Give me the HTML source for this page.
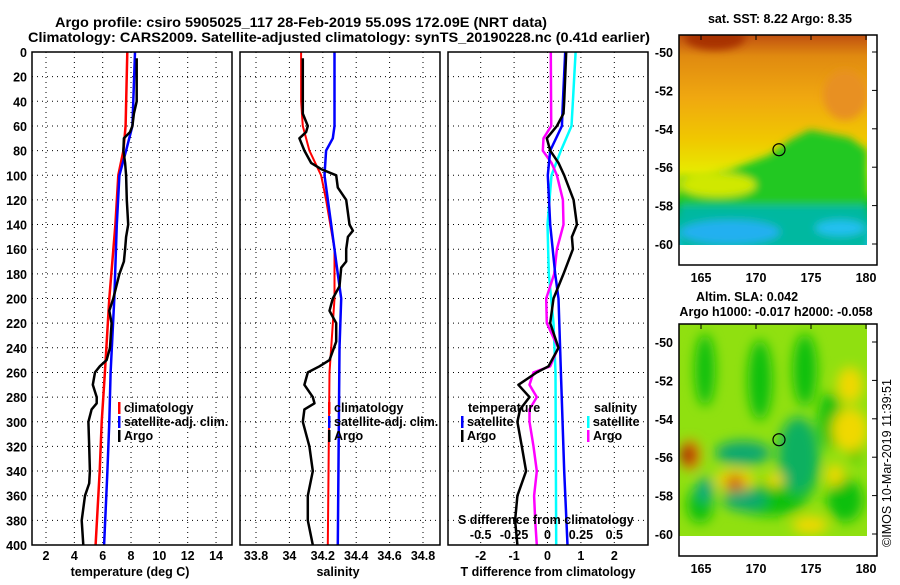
<!DOCTYPE html>
<html><head><meta charset="utf-8"><style>
html,body{margin:0;padding:0;background:#fff;}
svg text{font-family:"Liberation Sans",Arial,sans-serif;font-weight:bold;font-size:12.5px;fill:#000;}
</style></head><body>
<svg id="fig" xmlns="http://www.w3.org/2000/svg" width="900" height="580" viewBox="0 0 900 580">
<defs>
<filter id="blur6" x="-20%" y="-20%" width="140%" height="140%"><feGaussianBlur stdDeviation="6"/></filter>
<filter id="blur4" x="-20%" y="-20%" width="140%" height="140%"><feGaussianBlur stdDeviation="4"/></filter>
<clipPath id="clipTop"><rect x="679" y="35" width="188" height="210"/></clipPath>
<clipPath id="clipBot"><rect x="679" y="324" width="188" height="212"/></clipPath>
<linearGradient id="sstGrad" x1="0" y1="0" x2="0" y2="1">
<stop offset="0" stop-color="#c05010"/><stop offset="0.1" stop-color="#e08a10"/>
<stop offset="0.3" stop-color="#f0a810"/><stop offset="0.5" stop-color="#f0c800"/>
<stop offset="0.64" stop-color="#e8e800"/><stop offset="0.74" stop-color="#a0e000"/>
<stop offset="0.8" stop-color="#10c010"/><stop offset="0.88" stop-color="#00b890"/>
<stop offset="1" stop-color="#20c0f0"/>
</linearGradient>
</defs>
<text x="55" y="27" textLength="492" lengthAdjust="spacingAndGlyphs" style="font-size:14px">Argo profile: csiro 5905025_117 28-Feb-2019 55.09S 172.09E (NRT data)</text>
<text x="28" y="42" textLength="622" lengthAdjust="spacingAndGlyphs" style="font-size:14px">Climatology: CARS2009. Satellite-adjusted climatology: synTS_20190228.nc (0.41d earlier)</text>
<g id="panels"></g>
<g id="maps"></g>
<text transform="translate(891,547) rotate(-90)" textLength="168" lengthAdjust="spacingAndGlyphs" style="font-weight:normal;font-size:13px">©IMOS 10-Mar-2019 11:39:51</text>
</svg>
<script>
// ---------- data ----------
const depthsTClim=[0,60,80,100,140,200,260,300,340,400];
const tempClim=[7.74,7.62,7.46,7.1,6.9,6.47,6.16,5.93,5.79,5.5];
const depthsTSat=[0,40,60,80,100,140,200,260,300,340,400];
const tempSat=[8.28,8.16,8.1,7.65,7.18,7.0,6.82,6.56,6.47,6.33,6.1];
const depthsArgo=[5,40,50,60,65,70,80,90,100,120,140,150,160,170,180,200,210,220,240,250,255,260,270,280,285,290,300,320,340,350,360,380,400];
const tempArgo=[8.4,8.4,8.2,8.1,7.93,7.5,7.46,7.58,7.65,7.7,7.8,7.65,7.58,7.5,7.18,6.75,6.47,6.63,6.52,6.28,5.8,5.46,5.3,5.58,5.58,5.22,4.99,5.05,5.1,5.05,4.75,4.52,4.63];
const depthsSClim=[0,40,60,80,100,120,160,200,240,260,400];
const salClim=[34.07,34.07,34.08,34.12,34.19,34.22,34.27,34.27,34.25,34.24,34.23];
const depthsSSat=[0,60,70,80,100,140,180,200,240,400];
const salSat=[34.27,34.27,34.26,34.22,34.21,34.25,34.29,34.31,34.30,34.29];
const depthsSArgo=[5,50,60,65,70,80,90,95,100,110,120,140,145,150,160,170,175,190,200,210,220,235,250,255,260,270,280,285,290,300,320,340,360,380,400];
const salArgo=[34.08,34.08,34.11,34.1,34.06,34.09,34.13,34.19,34.28,34.29,34.34,34.36,34.38,34.35,34.34,34.34,34.31,34.3,34.26,34.24,34.28,34.28,34.24,34.18,34.11,34.09,34.14,34.15,34.09,34.08,34.12,34.14,34.11,34.11,34.14];
const depthsDT=[0,40,60,80,100,140,180,200,260,340,400];
const dTSat=[0.53,0.46,0.43,0.08,0.01,0.08,0.23,0.33,0.4,0.5,0.6];
const dTArgo=[0.56,0.5,0.48,0.28,-0.02,0.08,0.33,0.5,0.78,0.88,0.73,0.76,0.48,0.18,0.08,0.33,0.03,-0.32,-0.87,-0.54,-0.82,-0.9,-0.77,-0.64,-0.9,-0.97,-0.9];
const depthsDTArgo=[0,40,50,60,70,80,90,100,120,140,150,160,180,200,220,240,255,260,270,280,290,300,320,340,360,380,400];
const depthsDS=[0,40,60,80,100,140,180,220,260,400];
const dSSat=[0.21,0.19,0.18,0.1,0.03,0,0.01,0.045,0.06,0.065];
const depthsDSArgo=[0,60,70,80,90,100,120,140,160,180,200,220,240,255,260,270,280,290,300,320,340,360,380,400];
const dSArgo=[0.025,0.028,-0.03,-0.035,0.03,0.07,0.115,0.12,0.07,0.05,-0.01,-0.005,0.08,0.02,-0.105,-0.135,-0.08,-0.135,-0.135,-0.105,-0.08,-0.1,-0.092,-0.08];
const depthTicks=[0,20,40,60,80,100,120,140,160,180,200,220,240,260,280,300,320,340,360,380,400];
const tempTicks=[2,4,6,8,10,12,14];
const salTicks=[33.8,34,34.2,34.4,34.6,34.8];
const salTickLabels=["33.8","34","34.2","34.4","34.6","34.8"];
const dTTicks=[-2,-1,0,1,2];
const dSTicks=[-0.5,-0.25,0,0.25,0.5];
const dSTickLabels=["-0.5","-0.25","0","0.25","0.5"];
const lonTicks=[165,170,175,180];
const latTicks=[-50,-52,-54,-56,-58,-60];

// ---------- scales ----------
const NS="http://www.w3.org/2000/svg";
const Y=d=>52+d*493/400;
const xT=t=>46+(t-2)*14.17;
const xS=s=>256+(s-33.8)*167;
const xDT=t=>547.5+t*33.4;
const xDS=s=>547.5+s*133.6;
function el(tag,attrs,parent){const e=document.createElementNS(NS,tag);for(const k in attrs)e.setAttribute(k,attrs[k]);parent.appendChild(e);return e;}
const P=document.getElementById('panels');

function frame(x0,x1,name){
  const g=el('g',{},P);
  
  
  return g;
}
function grid(g,x0,x1,xs){
  depthTicks.forEach(d=>{if(d>0&&d<400){const l=el('line',{x1:x0,x2:x1,y1:Y(d),y2:Y(d),stroke:'#000','stroke-width':1,'stroke-dasharray':'1,4'},g);
    }});
  xs.forEach(x=>{const l=el('line',{x1:x,x2:x,y1:52,y2:545,stroke:'#000','stroke-width':1,'stroke-dasharray':'1,4'},g);
    });
}
function box(g,x0,x1){const r=el('rect',{x:x0,y:52,width:x1-x0,height:493,fill:'none',stroke:'#000','stroke-width':1.5},g);
  }
function line(g,ds,vs,xf,color,w,name){
  const pts=ds.map((d,i)=>xf(vs[i]).toFixed(1)+','+Y(d).toFixed(1)).join(' ');
  const p=el('polyline',{points:pts,fill:'none',stroke:color,'stroke-width':w,'stroke-linejoin':'round'},g);
  
}
function text(g,x,y,s,anchor,name,extra){
  const t=el('text',Object.assign({x:x,y:y,'text-anchor':anchor||'start'},extra||{}),g);t.textContent=s;
  return t;
}
function legend(g,x,y,color,label){
  const r=el('rect',{x:x,y:y-10,width:2.5,height:12,fill:color},g);
  
  text(g,x+6,y,label,'start','legend-entry');
}

// depth labels
const ya=frame(0,30,'y-axis-depth');
depthTicks.forEach(d=>text(ya,27,Y(d)+5,String(d),'end','y-tick-label'));

// panel 1 temperature
let g=frame(32,232,'temperature-panel');
grid(g,32,232,tempTicks.map(xT));
line(g,depthsTClim,tempClim,xT,'#f00',2.5,'climatology-temp-line');
line(g,depthsTSat,tempSat,xT,'#00f',2.5,'satellite-temp-line');
line(g,depthsArgo,tempArgo,xT,'#000',2.5,'argo-temp-line');
box(g,32,232);
tempTicks.forEach(t=>text(g,xT(t),560,String(t),'middle','x-tick-label'));
text(g,130,576,'temperature (deg C)','middle','x-axis-title');
legend(g,118,412,'#f00','climatology');legend(g,118,426,'#00f','satellite-adj. clim.');legend(g,118,440,'#000','Argo');

// panel 2 salinity
g=frame(240,440,'salinity-panel');
grid(g,240,440,salTicks.map(xS));
line(g,depthsSClim,salClim,xS,'#f00',2,'climatology-sal-line');
line(g,depthsSSat,salSat,xS,'#00f',2.5,'satellite-sal-line');
line(g,depthsSArgo,salArgo,xS,'#000',2.5,'argo-sal-line');
box(g,240,440);
salTicks.forEach((s,i)=>text(g,xS(s),560,salTickLabels[i],'middle','x-tick-label'));
text(g,338,576,'salinity','middle','x-axis-title');
legend(g,328,412,'#f00','climatology');legend(g,328,426,'#00f','satellite-adj. clim.');legend(g,328,440,'#000','Argo');

// panel 3 differences
g=frame(448,648,'difference-panel');
grid(g,448,648,dTTicks.map(xDT));
line(g,depthsDS,dSSat,xDS,'#0ff',2.5,'satellite-sal-diff-line');
line(g,depthsDSArgo,dSArgo,xDS,'#f0f',2.5,'argo-sal-diff-line');
line(g,depthsDT,dTSat,xDT,'#00f',2.5,'satellite-temp-diff-line');
line(g,depthsDTArgo,dTArgo,xDT,'#000',2.5,'argo-temp-diff-line');
box(g,448,648);
dTTicks.forEach(t=>text(g,xDT(t),560,String(t),'middle','x-tick-label'));
text(g,548,576,'T difference from climatology','middle','x-axis-title');
text(g,458,524,'S difference from climatology','start','s-axis-title');
dSTicks.forEach((s,i)=>text(g,xDS(s),539,dSTickLabels[i],'middle','s-tick-label'));
text(g,468,412,'temperature','start','legend-title');
legend(g,461,426,'#00f','satellite');legend(g,461,440,'#000','Argo');
text(g,594,412,'salinity','start','legend-title');
legend(g,587,426,'#0ff','satellite');legend(g,587,440,'#f0f','Argo');

// ---------- maps ----------
const M=document.getElementById('maps');
const lonX=l=>701+(l-165)*11;
function mapAxes(top,latY,frameBot,labelY,name){
  const g=el('g',{},M);
  
  const r=el('rect',{x:679,y:top,width:198,height:frameBot-top,fill:'none',stroke:'#000','stroke-width':1.5},g);
  
  latTicks.forEach(lat=>{const y=latY(lat);
    el('line',{x1:877,x2:872,y1:y,y2:y,stroke:'#000'},g);
    text(g,673,y+5,String(lat),'end','lat-tick-label');});
  lonTicks.forEach(l=>{el('line',{x1:lonX(l),x2:lonX(l),y1:top,y2:top+5,stroke:'#000'},g);
    text(g,lonX(l),labelY,String(l),'middle','lon-tick-label');});
}
// top SST map
const tg=el('g',{'clip-path':'url(#clipTop)'},M);

el('rect',{x:679,y:35,width:188,height:210,fill:'url(#sstGrad)'},tg);
const tb=el('g',{filter:'url(#blur4)'},tg);
el('ellipse',{cx:715,cy:38,rx:30,ry:12,fill:'#a83000'},tb);
el('ellipse',{cx:845,cy:95,rx:22,ry:25,fill:'#e89020'},tb);
el('path',{d:'M679 178 L730 170 L770 155 L790 140 L810 130 L850 138 L867 150 L867 205 L679 205 Z',fill:'#20c820'},tb);
el('ellipse',{cx:718,cy:185,rx:38,ry:12,fill:'#d0e800'},tb);
el('rect',{x:679,y:205,width:188,height:45,fill:'#00b8a0'},tb);
el('ellipse',{cx:730,cy:232,rx:50,ry:12,fill:'#20b0f0'},tb);
el('ellipse',{cx:840,cy:228,rx:25,ry:8,fill:'#20c0f0'},tb);
const dot=el('circle',{cx:lonX(172.09),cy:52+(55.09-50)*19.2,r:6,fill:'none',stroke:'#000','stroke-width':1.2},M);

mapAxes(35,lat=>52+(-50-lat)*19.2,265,282,'sst-map-axes');
text(M,780,23,'sat. SST: 8.22 Argo: 8.35','middle','sst-map-title');

// bottom SLA map
const bg=el('g',{'clip-path':'url(#clipBot)'},M);

el('rect',{x:679,y:324,width:188,height:212,fill:'#90e010'},bg);
const bb=el('g',{filter:'url(#blur6)'},bg);
[[705,370,10,36],[760,380,12,40],[805,370,12,36],[830,420,12,28],[770,500,36,16],[700,505,13,18],[845,500,18,22],[855,440,7,22]].forEach(e=>el('ellipse',{cx:e[0],cy:e[1],rx:e[2],ry:e[3],fill:'#10c010'},bb));
el('ellipse',{cx:800,cy:460,rx:20,ry:42,fill:'#20c020'},bb);
el('ellipse',{cx:743,cy:453,rx:28,ry:12,fill:'#10a870'},bb);
el('ellipse',{cx:798,cy:455,rx:20,ry:38,fill:'#10b060'},bb);
el('ellipse',{cx:745,cy:500,rx:22,ry:11,fill:'#10a870'},bb);
el('ellipse',{cx:705,cy:490,rx:8,ry:13,fill:'#10a880'},bb);
[[735,480,20,11],[775,480,9,7],[850,430,18,22],[850,385,13,18],[810,525,18,9],[835,475,9,11]].forEach(e=>el('ellipse',{cx:e[0],cy:e[1],rx:e[2],ry:e[3],fill:'#f0d800'},bb));
el('ellipse',{cx:690,cy:455,rx:10,ry:15,fill:'#f08000'},bb);
el('ellipse',{cx:688,cy:455,rx:7,ry:10,fill:'#a00000'},bb);
el('ellipse',{cx:735,cy:483,rx:10,ry:8,fill:'#d06010'},bb);
const dot2=el('circle',{cx:lonX(172.09),cy:342+(55.09-50)*19.2,r:6,fill:'none',stroke:'#000','stroke-width':1.2},M);

mapAxes(324,lat=>342+(-50-lat)*19.2,556,573,'sla-map-axes');
text(M,747,301,'Altim. SLA: 0.042','middle','sla-map-title');
text(M,776,316,'Argo h1000: -0.017 h2000: -0.058','middle','argo-height-title');
</script>
</body></html>
